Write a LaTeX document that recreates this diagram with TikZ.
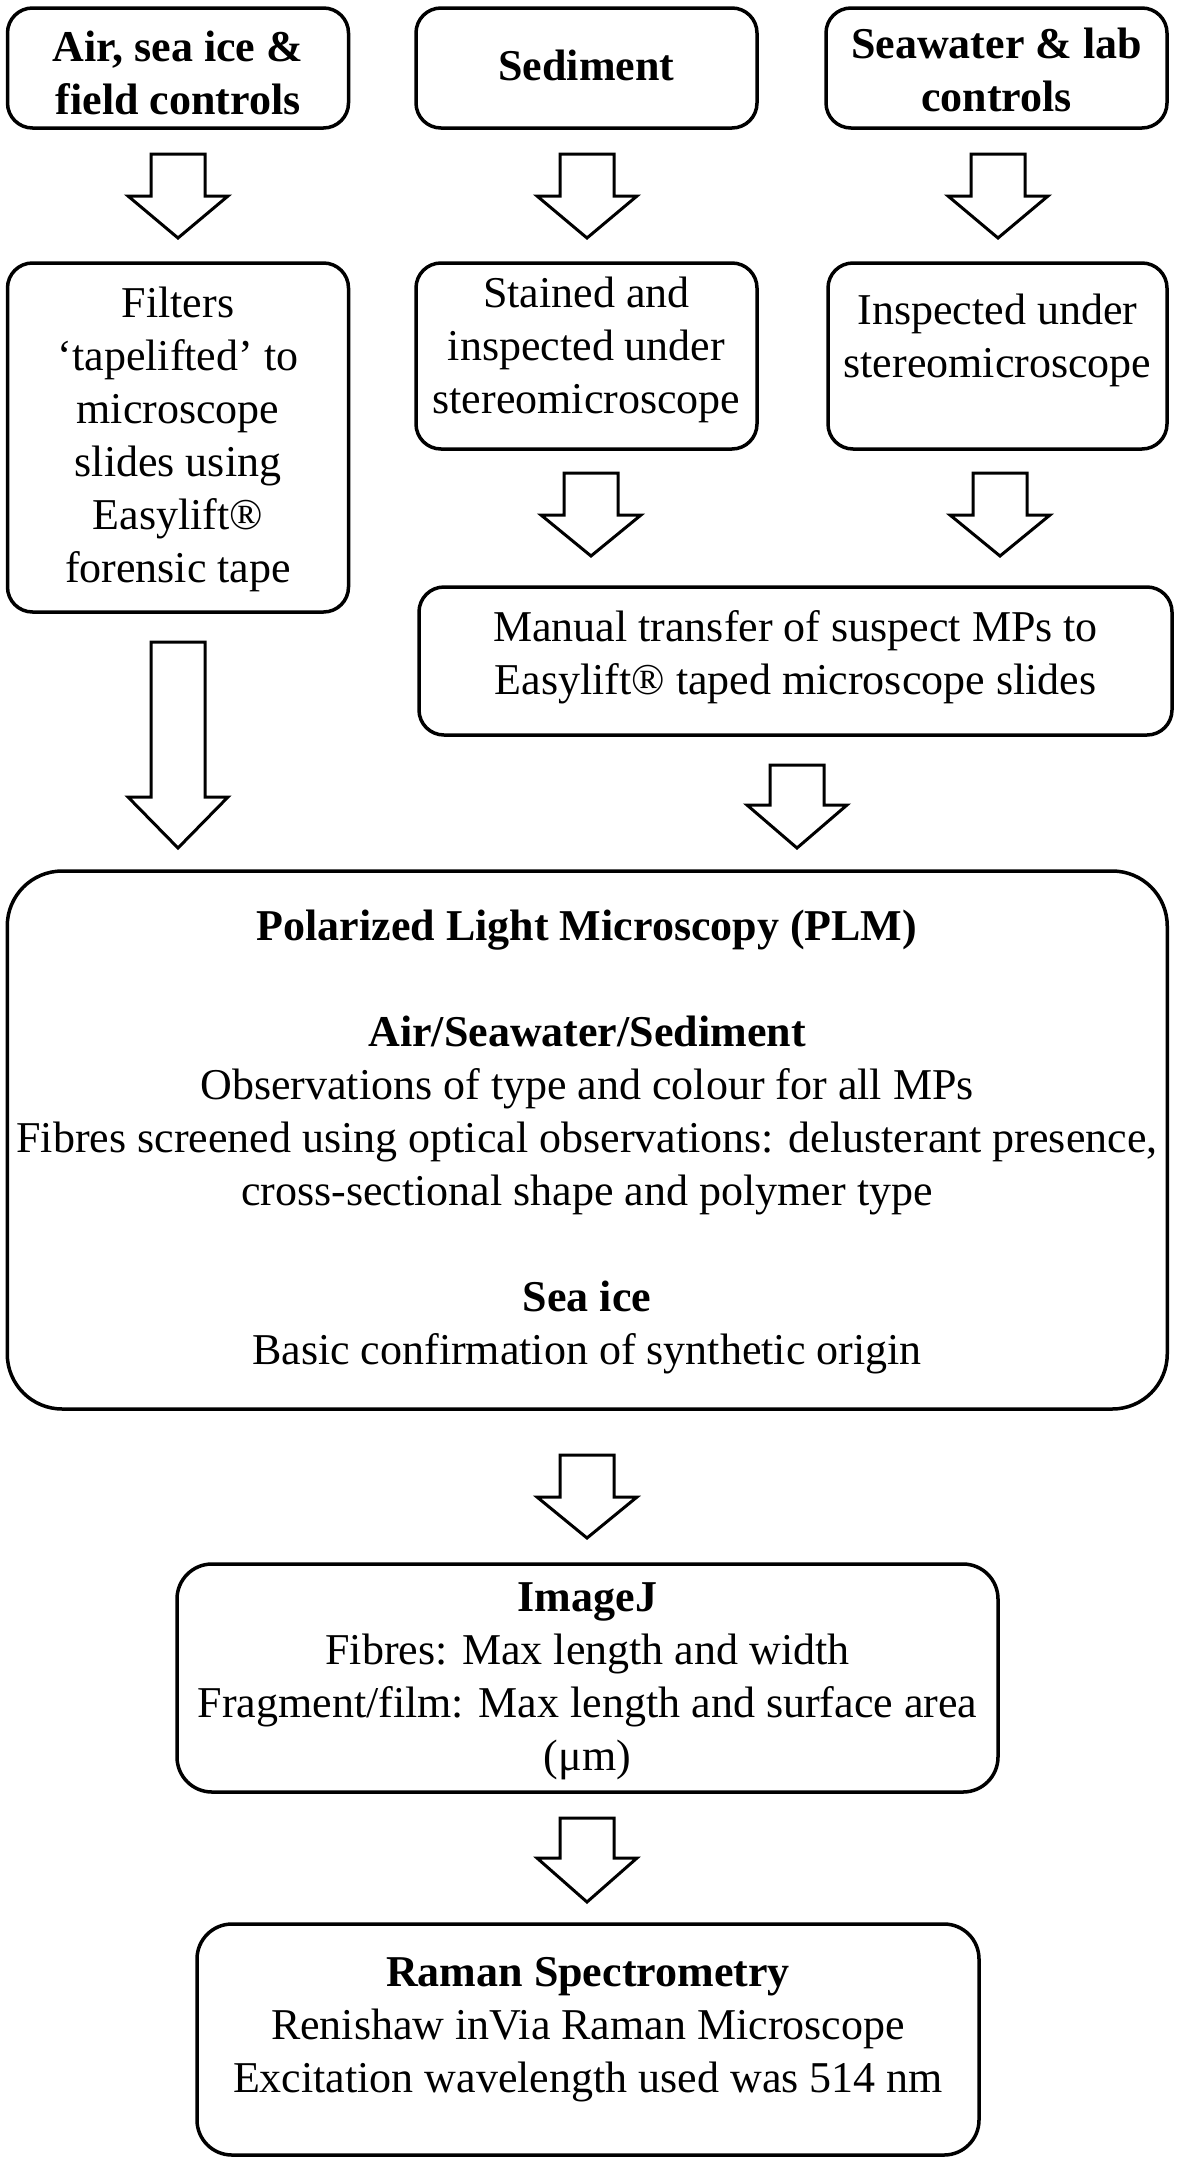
\documentclass[tikz,border=0pt]{standalone}
\usepackage{fontspec}
\setmainfont{Liberation Serif}
\newcommand{\blockarr}[4]{% x, top, head start, tip
  \draw[arrowline] (#1-27,#2) -- (#1+27,#2) -- (#1+27,#3) -- (#1+50,#3) -- (#1,#4) -- (#1-50,#3) -- (#1-27,#3) -- cycle;}
\begin{document}
\begin{tikzpicture}[x=1pt,y=-1pt,
  box/.style={draw, line width=3.5pt, rounded corners=25pt, inner sep=0pt},
  txt/.style={align=center, font=\fontsize{44}{53}\selectfont, inner sep=0pt},
  hd/.style={align=center, font=\fontsize{44}{53}\selectfont\bfseries, inner sep=0pt},
  arrowline/.style={draw, line width=3pt, fill=white, line join=miter}]
\fill[white] (0,0) rectangle (1181,2163);
\useasboundingbox (0,0) rectangle (1181,2163);

% top row
\node[box, minimum width=341pt, minimum height=120pt] (b1) at (178,68) {};
\node[box, minimum width=341pt, minimum height=120pt] (b2) at (586.5,68) {};
\node[box, minimum width=341pt, minimum height=120pt] (b3) at (996.5,68) {};
\node[hd] (tb1) at (178,73) {Air, sea ice \&\\field controls};
\node[hd] (tb2) at (586.5,65) {Sediment};
\node[hd] (tb3) at (996.5,70) {Seawater \& lab\\controls};

\blockarr{178}{154}{196}{238}
\blockarr{587}{154}{196}{238}
\blockarr{998}{154}{196}{238}

% second row
\node[box, minimum width=341pt, minimum height=349pt] (c1) at (178,437.5) {};
\node[box, minimum width=341pt, minimum height=186pt] (c2) at (586.5,356) {};
\node[box, minimum width=339pt, minimum height=186pt] (c3) at (997.5,356) {};
\node[txt] (tc1) at (178,439.5) {Filters\\‘tapelifted’ to\\microscope\\slides using\\Easylift®\\forensic tape};
\node[txt] (tc2) at (586.5,350) {Stained and\\inspected under\\stereomicroscope};
\node[txt] (tc3) at (997.5,340) {Inspected under\\stereomicroscope};

\blockarr{591}{473}{515}{556}
\blockarr{1000}{473}{515}{556}

% manual transfer
\node[box, minimum width=753pt, minimum height=148pt] (m) at (795.5,661) {};
\node[txt] (tm) at (795.5,657) {Manual transfer of suspect MPs to\\Easylift® taped microscope slides};

\blockarr{178}{642}{797}{848}
\blockarr{797}{765}{805}{848}

% PLM
\node[box, rounded corners=55pt, minimum width=1160pt, minimum height=538pt] (plm) at (587.25,1140) {};
\node[txt] (tplm) at (587,1142) {{\bfseries Polarized Light Microscopy (PLM)}\\[53pt]
{\bfseries Air/Seawater/Sediment}\\
Observations of type and colour for all MPs\\
Fibres screened using optical observations: delusterant presence,\\
cross-sectional shape and polymer type\\[53pt]
{\bfseries Sea ice}\\
Basic confirmation of synthetic origin};

\blockarr{587}{1455}{1497}{1538}

% ImageJ
\node[box, rounded corners=35pt, minimum width=821pt, minimum height=228pt] (ij) at (587.5,1678) {};
\node[txt] (tij) at (587.5,1681) {{\bfseries ImageJ}\\
Fibres: Max length and width\\
Fragment/film: Max length and surface area\\
(μm)};

\blockarr{587}{1818}{1858}{1902}

% Raman
\node[box, rounded corners=35pt, minimum width=782pt, minimum height=231pt] (ra) at (588,2039.5) {};
\node[txt] (tra) at (588,2030) {{\bfseries Raman Spectrometry}\\
Renishaw inVia Raman Microscope\\
Excitation wavelength used was 514 nm};
\end{tikzpicture}
\end{document}
